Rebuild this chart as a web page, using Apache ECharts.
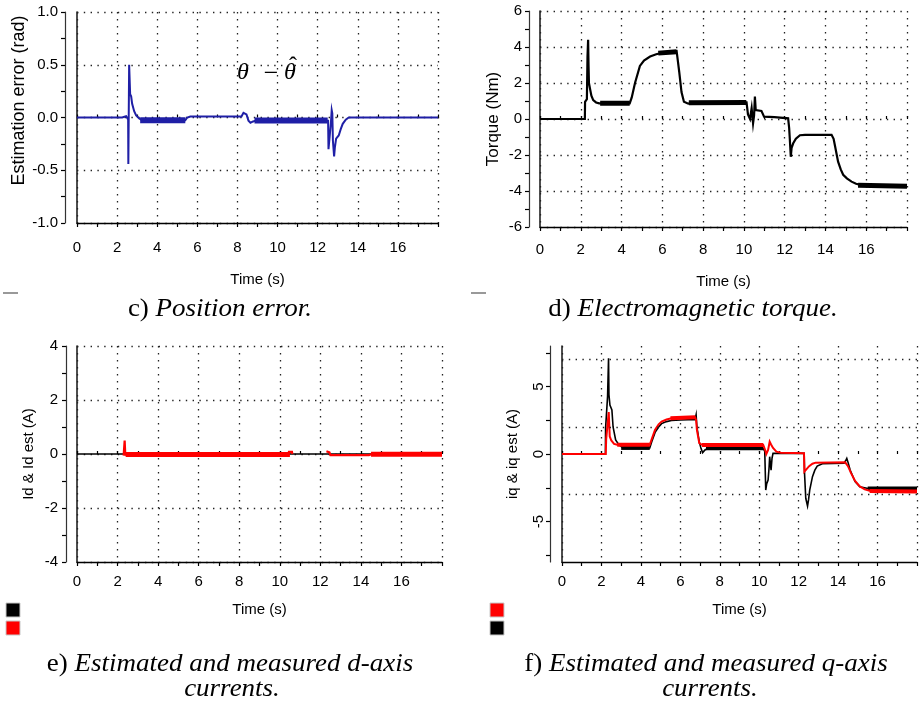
<!DOCTYPE html>
<html>
<head>
<meta charset="utf-8">
<script src="https://cdn.jsdelivr.net/npm/echarts@6/dist/echarts.min.js"></script>
<style>
html,body{margin:0;padding:0;background:#fff;}
#chart{width:920px;height:701px;}
</style>
</head>
<body>
<div id="chart"></div>
<script>
// ---------------- data ----------------
const timeTicks = [0, 2, 4, 6, 8, 10, 12, 14, 16];

// c) position error (rad)
const posErr = [[0,0],[2.25,0],[2.3,0.012],[2.45,0.012],[2.5,0],[2.55,-0.02],[2.56,-0.44],[2.58,-0.44],[2.6,0.5],[2.63,0.5],[2.65,0.22],[2.7,0.2],[2.75,0.13],[2.85,0.06],[2.95,0.02],[3.1,-0.01],[3.25,-0.025],[5.4,-0.025],[5.5,0],[5.65,0.01],[8.2,0.01],[8.3,0.045],[8.38,0.06],[8.45,0.03],[8.55,-0.03],[8.65,-0.05],[8.75,-0.04],[8.9,-0.03],[12.52,-0.03],[12.54,-0.3],[12.62,-0.3],[12.66,-0.05],[12.7,0.07],[12.73,0.04],[12.76,-0.22],[12.82,-0.37],[12.86,-0.28],[12.92,-0.2],[13.05,-0.17],[13.15,-0.11],[13.25,-0.06],[13.4,-0.02],[13.55,0],[18,0]];
const posErrBands = [[[3.15,-0.025],[5.4,-0.025]],[[8.85,-0.028],[12.5,-0.028]]];

// d) electromagnetic torque (Nm)
const torque = [[0,0],[2.2,0],[2.21,0.95],[2.3,1.1],[2.33,3.5],[2.36,4.4],[2.38,3.0],[2.4,2.0],[2.45,1.7],[2.52,1.3],[2.61,1.05],[2.75,0.92],[2.9,0.87],[4.4,0.87],[4.5,1.2],[4.66,2.0],[4.9,2.95],[5.1,3.25],[5.4,3.47],[5.7,3.6],[6.05,3.69],[6.4,3.72],[6.7,3.78],[6.76,3.75],[6.83,2.6],[6.94,1.5],[7.06,0.96],[7.27,0.85],[7.4,0.88],[10.13,0.92],[10.2,0.25],[10.3,0],[10.38,0.6],[10.45,-0.24],[10.5,0.2],[10.54,1.25],[10.58,0.5],[10.62,0.4],[10.86,0.45],[10.99,0.13],[11.5,0.1],[12.17,0.04],[12.22,-0.5],[12.25,-1.07],[12.3,-2.1],[12.34,-1.6],[12.42,-1.35],[12.55,-1.1],[12.75,-0.9],[13.0,-0.88],[14.3,-0.88],[14.4,-1.1],[14.46,-1.44],[14.62,-2.37],[14.75,-2.8],[14.87,-3.1],[15.05,-3.3],[15.28,-3.48],[15.5,-3.6],[15.77,-3.67],[16.5,-3.72],[18,-3.76]];
const torqueBands = [[[2.95,0.87],[4.4,0.87]],[[5.8,3.66],[6.7,3.74]],[[7.3,0.9],[10.12,0.92]],[[15.6,-3.68],[18,-3.74]]];

// e) d-axis currents (A)
const idMeas = [[0,0],[18,0]];
const idEst = [[2.3,-0.06],[2.33,-0.06],[2.35,0.5],[2.37,0.5],[2.38,-0.02],[10.4,-0.02],[10.45,0.08],[10.6,0.08],[10.62,0],'-',[12.3,0.1],[12.45,0.06],[12.5,-0.04],[14.4,-0.04],[14.5,-0.01],[18,-0.01]];
const idEstBands = [[[2.4,-0.02],[10.5,-0.02]],[[14.5,-0.01],[18,-0.01]]];

// f) q-axis currents (A)
const iqMeas = [[0,0],[2.2,0],[2.21,1.9],[2.28,2.0],[2.31,4.25],[2.36,7.1],[2.38,4.4],[2.43,3.63],[2.53,3.26],[2.59,2.0],[2.72,1.04],[2.89,0.67],[3.1,0.45],[4.45,0.45],[4.55,0.9],[4.72,1.6],[4.9,2.0],[5.05,2.25],[5.3,2.4],[5.55,2.48],[6.0,2.52],[6.75,2.56],[6.8,2.9],[6.84,2.0],[6.96,0.9],[7.05,0.4],[7.13,0.1],[7.25,0.3],[7.4,0.42],[10.2,0.42],[10.28,0.2],[10.33,-2.67],[10.38,-2.2],[10.45,-1.93],[10.5,-1.0],[10.53,-0.2],[10.6,-1.2],[10.65,-0.3],[10.7,0.05],[10.8,0.1],[11.37,0.05],[12.28,0.05],[12.3,-1.5],[12.36,-3.28],[12.45,-3.85],[12.5,-3.4],[12.56,-2.67],[12.7,-1.68],[12.82,-1.2],[12.94,-0.89],[13.2,-0.72],[14.3,-0.68],[14.38,-0.5],[14.44,-0.32],[14.5,-0.6],[14.61,-1.19],[14.86,-2.05],[15.1,-2.42],[15.52,-2.55],[16,-2.55],[18,-2.55]];
const iqMeasBands = [[[3.0,0.45],[4.45,0.45]],[[7.3,0.42],[10.2,0.42]],[[15.5,-2.55],[18,-2.55]]];
const iqEst = [[0,0],[2.22,0],[2.24,1.1],[2.33,1.15],[2.37,3.1],[2.4,3.0],[2.42,1.3],[2.5,1.0],[2.64,0.75],[2.8,0.68],[4.45,0.68],[4.55,1.1],[4.72,1.8],[4.9,2.2],[5.05,2.4],[5.3,2.55],[5.55,2.64],[6.0,2.68],[6.75,2.72],[6.8,2.5],[6.84,1.78],[6.96,0.8],[7.1,0.68],[10.2,0.68],[10.3,0.3],[10.36,0],[10.45,0.3],[10.53,0.91],[10.6,0.7],[10.7,0.45],[10.87,0.17],[11.1,0.1],[12.27,0.05],[12.29,-1.3],[12.35,-1.25],[12.53,-0.9],[12.7,-0.72],[12.86,-0.64],[14.36,-0.62],[14.5,-0.9],[14.65,-1.4],[14.86,-2.0],[15.1,-2.4],[15.35,-2.62],[15.6,-2.72],[16,-2.76],[18,-2.78]];
const iqEstBands = [[[2.8,0.68],[4.45,0.68]],[[5.5,2.65],[6.75,2.72]],[[7.1,0.66],[10.2,0.66]],[[15.6,-2.74],[18,-2.78]]];

const yLabelsF = [-5, 0, 5];
const yTicksF = [-7.5, -5, -2.5, 0, 2.5, 5, 7.5];
const gridLinesF = [7, 2, -3];

// ---------------- layout ----------------
const FONT = 'Liberation Sans';
const grids = [
  {left: 77, top: 12, width: 361, height: 211},
  {left: 540, top: 11, width: 367, height: 216},
  {left: 77, top: 346, width: 365, height: 216},
  {left: 562, top: 346, width: 361, height: 216}
];
const dotV = {show: true, lineStyle: {color: '#222', width: 1.3, type: [1.4, 5.6]}};
const dotH = {show: true, lineStyle: {color: '#222', width: 1.3, type: [1.4, 5.4]}};

function xAxesFor(gi, labelMargin, nameGap) {
  return [{
    type: 'value', gridIndex: gi, position: 'bottom', min: 0, max: 18, interval: 2,
    axisLine: {show: true, onZero: false, lineStyle: {color: '#000', width: 1.4}},
    axisTick: {show: true, length: 4, lineStyle: {color: '#000', width: 1.2}},
    minorTick: {show: true, splitNumber: 2, length: 4, lineStyle: {color: '#000', width: 1.2}},
    axisLabel: {margin: labelMargin, fontFamily: FONT, fontSize: 15, color: '#000',
      formatter: v => (timeTicks.indexOf(v) >= 0 ? String(v) : '')},
    splitLine: dotV,
    name: 'Time (s)', nameLocation: 'middle', nameGap: nameGap,
    nameTextStyle: {fontFamily: FONT, fontSize: 15, color: '#000'}
  }, {
    type: 'value', gridIndex: gi, position: 'bottom', min: 0, max: 18, interval: 2,
    axisLine: {show: false},
    axisTick: {show: true, inside: true, length: 3, lineStyle: {color: '#000', width: 1.2}},
    minorTick: {show: true, splitNumber: 2, length: 3, lineStyle: {color: '#000', width: 1.2}},
    axisLabel: {show: false}, splitLine: {show: false}
  }];
}

function yAxesFor(gi, cfg) {
  const main = {
    type: 'value', gridIndex: gi, position: 'left', offset: cfg.offset,
    min: cfg.min, max: cfg.max,
    axisLine: {show: true, onZero: false, lineStyle: {color: '#333', width: 1.2}},
    axisTick: {show: true, length: 4, lineStyle: {color: '#000', width: 1.2}},
    axisLabel: {margin: cfg.labelMargin, fontFamily: FONT, fontSize: 15, color: '#000'},
    splitLine: {show: false},
    name: cfg.name, nameLocation: 'middle', nameGap: cfg.nameGap,
    nameTextStyle: {fontFamily: FONT, fontSize: cfg.nameSize, color: '#000', padding: cfg.namePad || 0}
  };
  if (cfg.interval !== undefined) {
    main.interval = cfg.interval;
    main.minorTick = {show: true, splitNumber: 2, length: 4, lineStyle: {color: '#000', width: 1.2}};
    main.splitLine = dotH;
  }
  if (cfg.formatter) main.axisLabel.formatter = cfg.formatter;
  if (cfg.labelValues) {
    main.axisLabel.customValues = cfg.labelValues;
    main.axisLabel.rotate = 90;
    main.axisTick.customValues = cfg.tickValues;
  }
  const zero = {
    type: 'value', gridIndex: gi, position: 'left', offset: 0, min: cfg.min, max: cfg.max,
    axisLine: {show: true, onZero: false, lineStyle: {color: '#222', width: 1.6}},
    axisTick: {show: false}, axisLabel: {show: false}, splitLine: {show: false}
  };
  return [main, zero];
}

const xAxis = [].concat(
  xAxesFor(0, 17, 49), xAxesFor(1, 15, 47), xAxesFor(2, 12, 40), xAxesFor(3, 12, 40));
const yAxis = [].concat(
  yAxesFor(0, {offset: 12, min: -1, max: 1, interval: 0.5, labelMargin: 7, nameGap: 36, nameSize: 18,
    name: 'Estimation error (rad)', namePad: [0, 0, 0, 34], formatter: v => v.toFixed(1)}),
  yAxesFor(1, {offset: 11, min: -6, max: 6, interval: 2, labelMargin: 7, nameGap: 27, nameSize: 17, name: 'Torque (Nm)'}),
  yAxesFor(2, {offset: 11, min: -4, max: 4, interval: 2, labelMargin: 8, nameGap: 30, nameSize: 15, name: 'Id & Id est (A)'}),
  yAxesFor(3, {offset: 12, min: -8, max: 8, labelMargin: 4, nameGap: 30, nameSize: 15, name: 'iq & iq est (A)',
    labelValues: yLabelsF, tickValues: yTicksF})
);

const series = [];
function addLine(gi, data, color, width) {
  series.push({type: 'line', xAxisIndex: gi * 2, yAxisIndex: gi * 2, data: data,
    showSymbol: false, symbol: 'none', silent: true, connectNulls: false,
    lineStyle: {color: color, width: width, cap: 'butt', join: 'miter'}});
  return series[series.length - 1];
}
function addBands(gi, bands, color, width) {
  bands.forEach(b => addLine(gi, b, color, width));
}
const BLUE = '#1f1fa6', RED = '#ff0000', BLACK = '#000000';
addLine(0, posErr, BLUE, 2);
addBands(0, posErrBands, BLUE, 6);
addLine(1, torque, BLACK, 2.2);
addBands(1, torqueBands, BLACK, 5);
addLine(2, idMeas, BLACK, 1.3);
addLine(2, idEst, RED, 2.2);
addBands(2, idEstBands, RED, 5);
const fBlack = addLine(3, iqMeas, BLACK, 1.6);
fBlack.markLine = {silent: true, symbol: 'none', label: {show: false},
  lineStyle: {color: '#222', width: 1.3, type: [1.4, 5.4]},
  data: gridLinesF.map(v => ({yAxis: v}))};
addBands(3, iqMeasBands, BLACK, 4);
addLine(3, iqEst, RED, 2);
addBands(3, iqEstBands, RED, 4);

// ---------------- annotations ----------------
const SERIF = 'Liberation Serif';
function caption(x, y, lead, body) {
  return {type: 'text', x: x, y: y, scaleX: 1.08, silent: true, style: {
    text: (lead ? '{n|' + lead + '}' : '') + '{i|' + body + '}',
    align: 'center', verticalAlign: 'middle',
    rich: {n: {fontFamily: SERIF, fontSize: 25, fill: '#000'},
           i: {fontFamily: SERIF, fontSize: 25, fontStyle: 'italic', fill: '#000'}}
  }};
}
function square(x, y, color) {
  return {type: 'rect', silent: true, shape: {x: x, y: y, width: 14, height: 14},
    style: {fill: color, stroke: '#c8c8c8', lineWidth: 1}};
}
function dash(x, y) {
  return {type: 'line', silent: true, shape: {x1: x, y1: y, x2: x + 15, y2: y},
    style: {stroke: '#777', lineWidth: 1.5}};
}
const thetaFont = {fontFamily: SERIF, fontSize: 24, fontStyle: 'italic', fill: '#000'};
const graphic = [
  caption(220, 309, 'c) ', 'Position error.'),
  caption(693, 309, 'd) ', 'Electromagnetic torque.'),
  caption(230, 664, 'e) ', 'Estimated and measured d-axis'),
  caption(232, 689, '', 'currents.'),
  caption(706, 664, 'f) ', 'Estimated and measured q-axis'),
  caption(710, 689, '', 'currents.'),
  {type: 'text', x: 243, y: 73, silent: true, style: Object.assign({text: 'θ', align: 'center', verticalAlign: 'middle'}, thetaFont)},
  {type: 'text', x: 271, y: 74, silent: true, style: {text: '−', align: 'center', verticalAlign: 'middle', fontFamily: SERIF, fontSize: 26, fill: '#000'}},
  {type: 'text', x: 290, y: 73, silent: true, style: Object.assign({text: 'θ', align: 'center', verticalAlign: 'middle'}, thetaFont)},
  {type: 'text', x: 293, y: 67, silent: true, style: {text: 'ˆ', align: 'center', verticalAlign: 'middle', fontFamily: SERIF, fontSize: 24, fill: '#000'}},
  dash(3, 293), dash(471, 293),
  square(6, 603, '#000'), square(6, 621, '#ff0000'),
  square(490, 603, '#ff0000'), square(490, 621, '#000')
];

const chart = echarts.init(document.getElementById('chart'), null, {renderer: 'canvas'});
chart.setOption({animation: false, grid: grids, xAxis: xAxis, yAxis: yAxis, series: series, graphic: graphic});
</script>
</body>
</html>
